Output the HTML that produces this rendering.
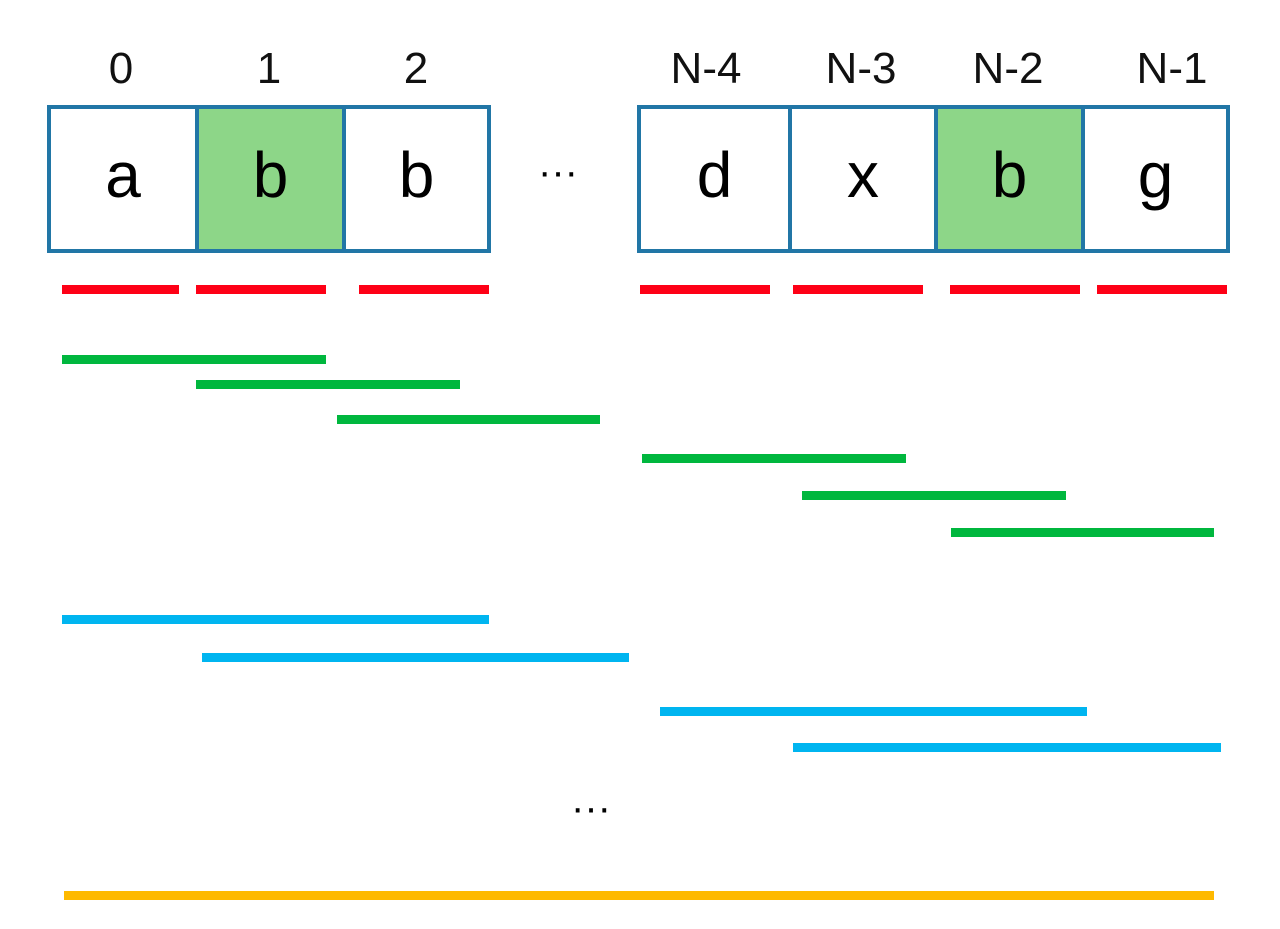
<!DOCTYPE html>
<html><head><meta charset="utf-8"><style>
body{margin:0;width:1280px;height:929px;background:#fff;position:relative;overflow:hidden;font-family:"Liberation Sans",sans-serif;}
.l{position:absolute;height:9px;}
.r{background:#fe0016;}.g{background:#00b73e;}.b{background:#00b5f0;}.o{background:#feb900;}
.box{position:absolute;top:105px;height:148px;border:4px solid #2176a6;box-sizing:border-box;display:flex;}
.c{height:100%;box-sizing:border-box;border-right:4px solid #2176a6;display:flex;align-items:center;justify-content:center;font-size:64px;color:#000;padding-bottom:8px;}
.c:last-child{border-right:none}
.gr{background:#8dd688}
.idx{position:absolute;top:44px;font-size:44px;width:140px;text-align:center;color:#111}
.dots{position:absolute;font-size:40px;}
</style></head><body>
<div class="idx" style="left:51px">0</div>
<div class="idx" style="left:199px">1</div>
<div class="idx" style="left:346px">2</div>
<div class="idx" style="left:636px">N-4</div>
<div class="idx" style="left:791px">N-3</div>
<div class="idx" style="left:938px">N-2</div>
<div class="idx" style="left:1102px">N-1</div>
<div class="box" style="left:47px;width:444px">
<div class="c" style="width:148px">a</div><div class="c gr" style="width:147px">b</div><div class="c" style="width:141px">b</div></div>
<div class="box" style="left:637px;width:593px">
<div class="c" style="width:151px">d</div><div class="c" style="width:146px">x</div><div class="c gr" style="width:147px">b</div><div class="c" style="width:141px">g</div></div>
<div class="dots" style="left:538px;top:150px">···</div>
<div class="dots" style="left:571px;top:786px">···</div>
<div class="l r" style="left:62px;width:117px;top:285px"></div>
<div class="l r" style="left:196px;width:130px;top:285px"></div>
<div class="l r" style="left:359px;width:130px;top:285px"></div>
<div class="l r" style="left:640px;width:130px;top:285px"></div>
<div class="l r" style="left:793px;width:130px;top:285px"></div>
<div class="l r" style="left:950px;width:130px;top:285px"></div>
<div class="l r" style="left:1097px;width:130px;top:285px"></div>
<div class="l g" style="left:62px;width:264px;top:355px"></div>
<div class="l g" style="left:196px;width:264px;top:380px"></div>
<div class="l g" style="left:337px;width:263px;top:415px"></div>
<div class="l g" style="left:642px;width:264px;top:454px"></div>
<div class="l g" style="left:802px;width:264px;top:491px"></div>
<div class="l g" style="left:951px;width:263px;top:528px"></div>
<div class="l b" style="left:62px;width:427px;top:615px"></div>
<div class="l b" style="left:202px;width:427px;top:653px"></div>
<div class="l b" style="left:660px;width:427px;top:707px"></div>
<div class="l b" style="left:793px;width:428px;top:743px"></div>
<div class="l o" style="left:64px;width:1150px;top:891px"></div>
</body></html>
